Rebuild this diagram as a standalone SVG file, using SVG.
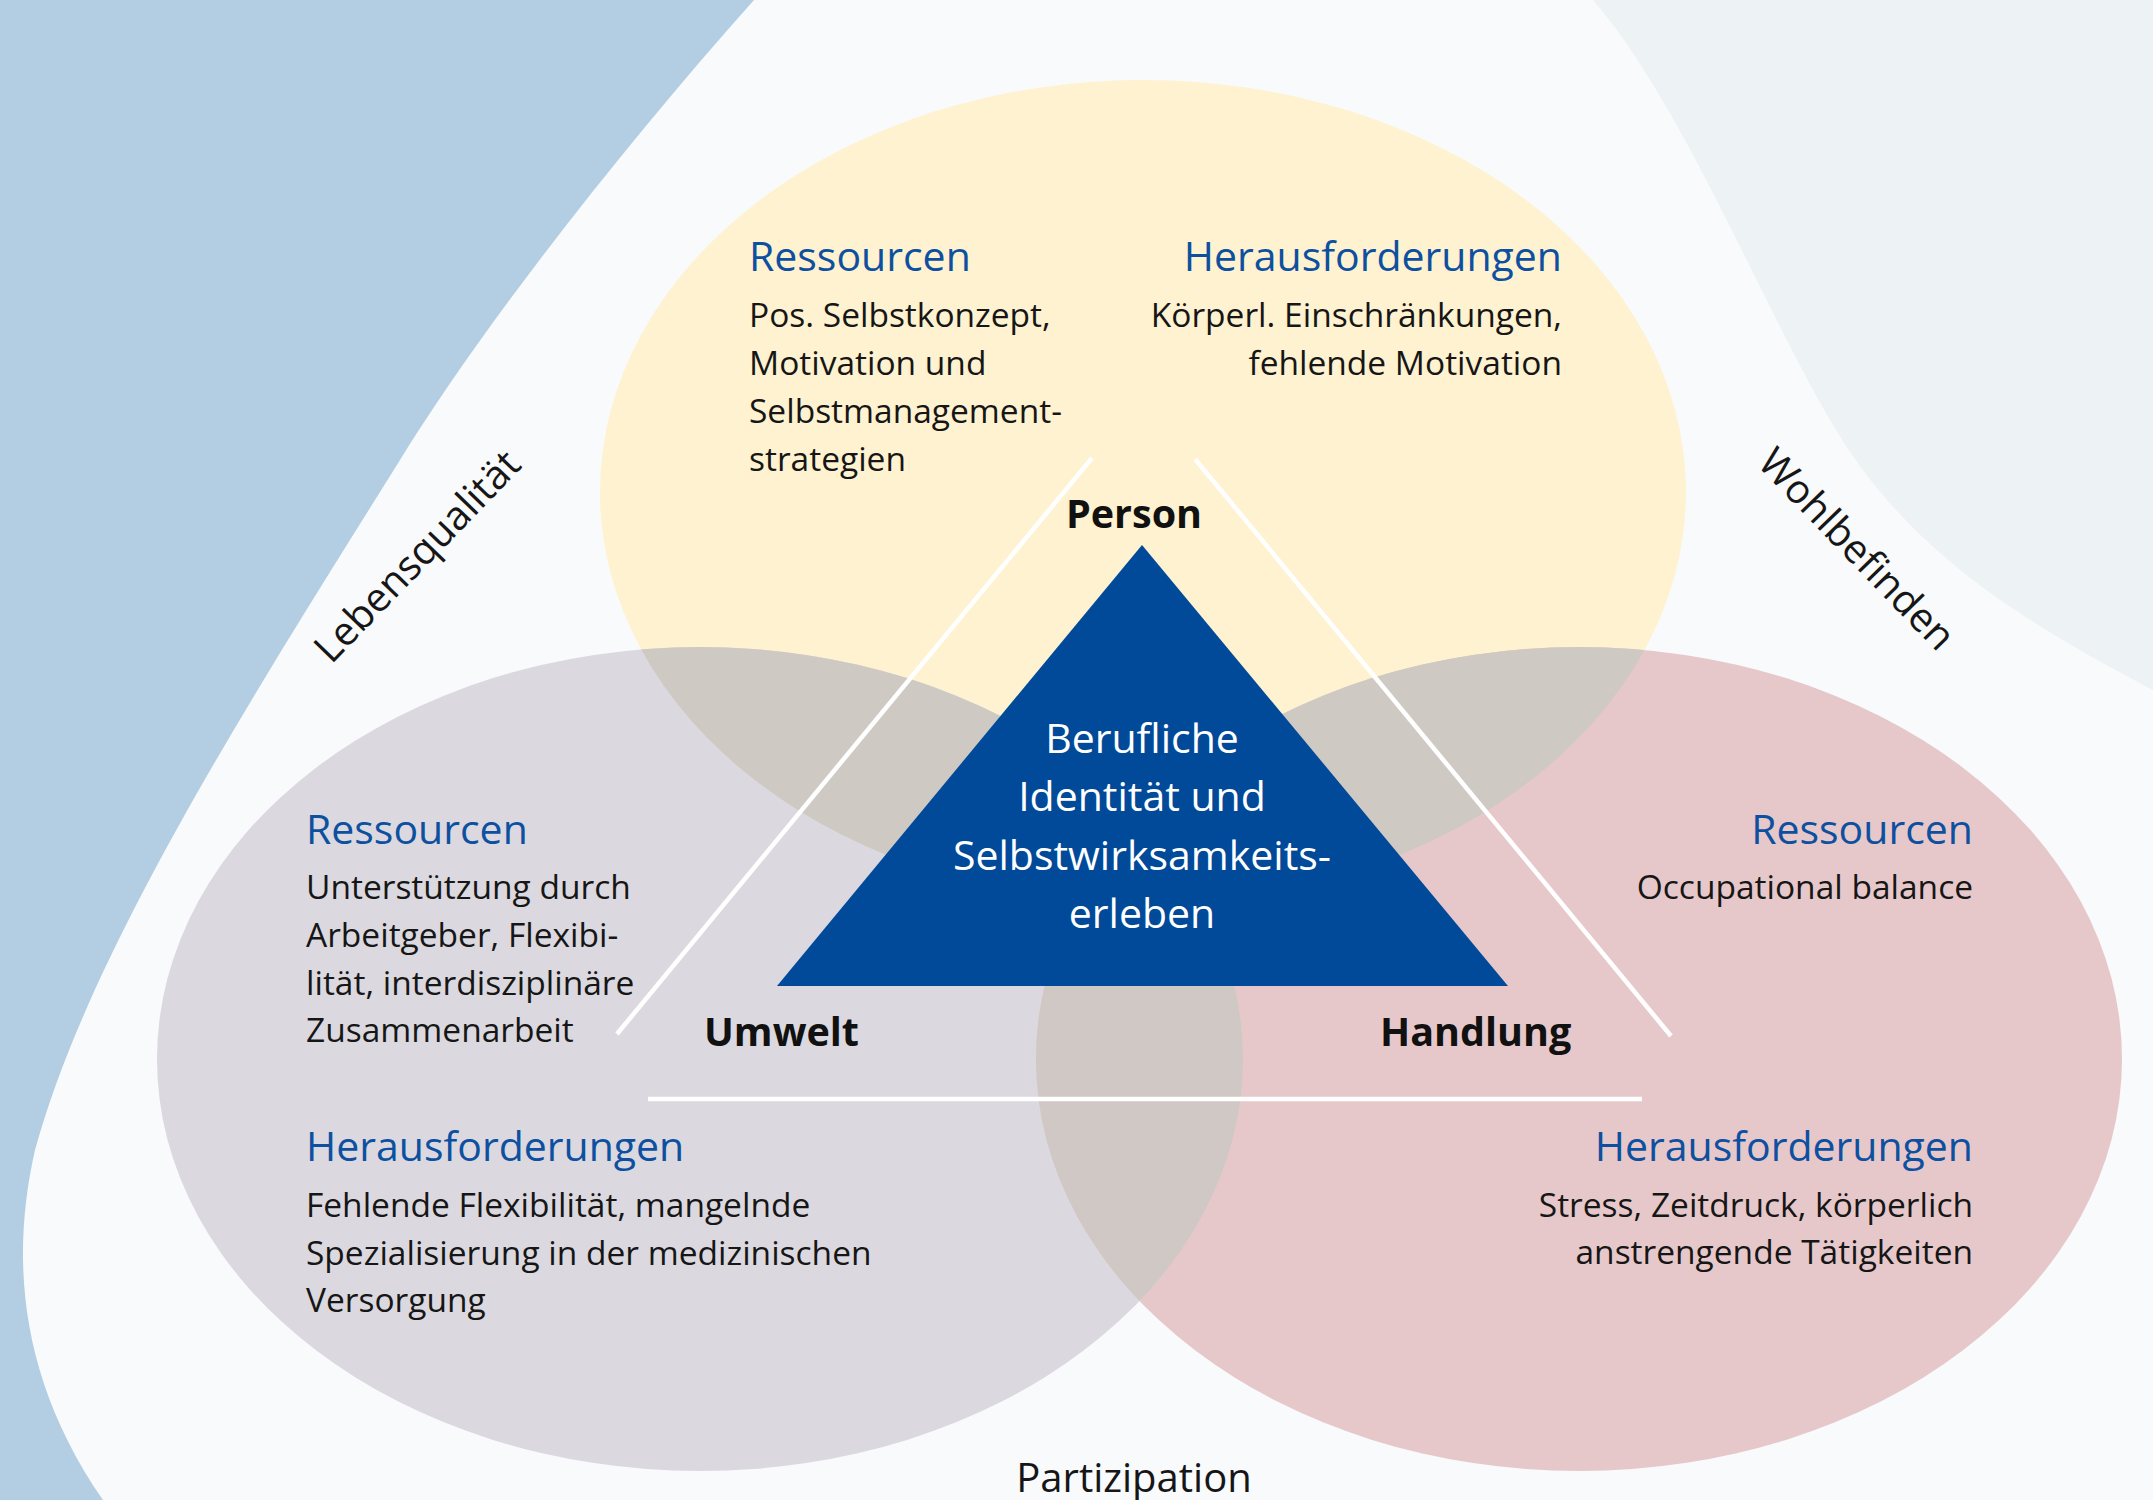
<svg xmlns="http://www.w3.org/2000/svg" width="2153" height="1500" viewBox="0 0 2153 1500">
<style>
text{font-family:"Open Sans","Noto Sans","Liberation Sans",sans-serif;}
.h{font-size:41px;fill:#0e50a0;}
.b{font-size:33.5px;fill:#161616;}
.lbl{font-size:39.5px;font-weight:700;fill:#111;}
.side{font-size:40px;fill:#161616;}
.tri{font-size:41px;fill:#ffffff;text-anchor:middle;}
.end{text-anchor:end;}
.mid{text-anchor:middle;}
.wl{stroke:#ffffff;stroke-width:4.5;fill:none;}
</style>
<defs>
<clipPath id="cY"><ellipse cx="1143" cy="492" rx="543" ry="412"/></clipPath>
<clipPath id="cG"><ellipse cx="700" cy="1059" rx="543" ry="412"/></clipPath>
</defs>
<g id="background">
<rect x="0" y="0" width="2153" height="1500" fill="#f8fafc"/>
<path d="M0 0 H754 C620 150 480 330 400 460 C250 700 90 950 35 1150 C10 1260 20 1380 103 1500 H0 Z" fill="#b3cee2"/>
<path d="M1593 0 C1680 100 1760 300 1830 420 C1900 540 2000 610 2153 690 V0 Z" fill="#edf2f4"/>
</g>
<g id="person">
<ellipse cx="1143" cy="492" rx="543" ry="412" fill="#fef2d0"/>
</g>
<g id="umwelt">
<ellipse cx="700" cy="1059" rx="543" ry="412" fill="#dbd9df"/>
</g>
<g id="handlung">
<ellipse cx="1579" cy="1059" rx="543" ry="412" fill="#e7c8ca"/>
</g>
<g id="overlaps">
<ellipse cx="700" cy="1059" rx="543" ry="412" fill="#cfc9c3" clip-path="url(#cY)"/>
<ellipse cx="1579" cy="1059" rx="543" ry="412" fill="#cfc9c3" clip-path="url(#cY)"/>
<ellipse cx="1579" cy="1059" rx="543" ry="412" fill="#cfc8c4" clip-path="url(#cG)"/>
</g>
<g id="connectors">
<line class="wl" x1="1092" y1="458" x2="617" y2="1034"/>
<line class="wl" x1="1195" y1="459" x2="1671" y2="1036"/>
<line class="wl" x1="648" y1="1099" x2="1642" y2="1099"/>
</g>
<g id="core">
<polygon points="1142,545 1508,986 777,986" fill="#004a99"/>
<text class="tri" x="1142" y="753">Berufliche</text>
<text class="tri" x="1142" y="811">Identität und</text>
<text class="tri" x="1142" y="870">Selbstwirksamkeits-</text>
<text class="tri" x="1142" y="928">erleben</text>
</g>
<g id="person-text">
<text class="lbl mid" x="1134" y="528">Person</text>
<text class="h" x="749" y="271">Ressourcen</text>
<text class="b" x="749" y="327">Pos. Selbstkonzept,</text>
<text class="b" x="749" y="375">Motivation und</text>
<text class="b" x="749" y="423">Selbstmanagement-</text>
<text class="b" x="749" y="471">strategien</text>
<text class="h end" x="1562" y="271">Herausforderungen</text>
<text class="b end" x="1562" y="327">Körperl. Einschränkungen,</text>
<text class="b end" x="1562" y="375">fehlende Motivation</text>
</g>
<g id="umwelt-text">
<text class="lbl" x="704" y="1046">Umwelt</text>
<text class="h" x="306" y="844">Ressourcen</text>
<text class="b" x="306" y="899">Unterstützung durch</text>
<text class="b" x="306" y="947">Arbeitgeber, Flexibi-</text>
<text class="b" x="306" y="995">lität, interdisziplinäre</text>
<text class="b" x="306" y="1042">Zusammenarbeit</text>
<text class="h" x="306" y="1161">Herausforderungen</text>
<text class="b" x="306" y="1217">Fehlende Flexibilität, mangelnde</text>
<text class="b" x="306" y="1265">Spezialisierung in der medizinischen</text>
<text class="b" x="306" y="1312">Versorgung</text>
</g>
<g id="handlung-text">
<text class="lbl" x="1380" y="1046">Handlung</text>
<text class="h end" x="1973" y="844">Ressourcen</text>
<text class="b end" x="1973" y="899">Occupational balance</text>
<text class="h end" x="1973" y="1161">Herausforderungen</text>
<text class="b end" x="1973" y="1217">Stress, Zeitdruck, körperlich</text>
<text class="b end" x="1973" y="1264">anstrengende Tätigkeiten</text>
</g>
<g id="outer-labels">
<text class="side mid" transform="translate(417,556) rotate(-46)" dy="0.35em">Lebensqualität</text>
<text class="side mid" transform="translate(1857,549) rotate(46)" dy="0.35em">Wohlbefinden</text>
<text class="side mid" x="1134" y="1492">Partizipation</text>
</g>
</svg>
